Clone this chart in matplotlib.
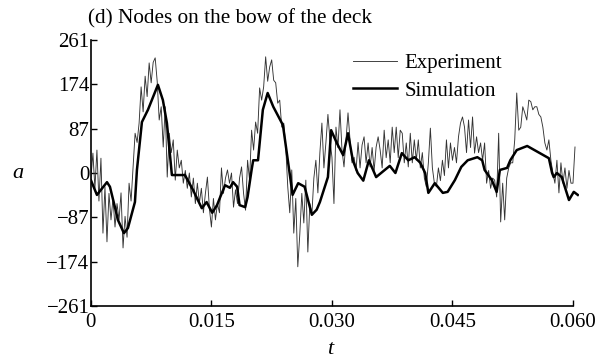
"""Bow-of-deck node acceleration: experiment against simulation."""

import matplotlib
matplotlib.use('Agg')
import matplotlib.pyplot as plt
import numpy as np

# measured signal, sampled every 0.25 ms from t = 0
DT_EXP = 0.00025
exp_a = [
    -10, 39, -30, 45, -55, 29, -118, -27, -135, -40,
    -92, -50, -106, -60, -92, -39, -147, -85, -126, -20,
    -55, 12, 78, 60, 98, 169, 120, 190, 150, 216,
    177, 217, 226, 180, 104, 130, 51, 130, -8, 78,
    40, 65, -14, 45, 10, 25, -20, 5, -30, 0,
    -47, -10, -60, -20, -59, -30, -78, -40, -8, -70,
    -106, -50, -92, -60, -78, 10, -40, -10, 6, -20,
    0, -67, -33, -60, -10, 12, -40, -73, 25, -14,
    84, 45, 100, 78, 167, 143, 169, 228, 180, 208,
    222, 182, 177, 137, 143, 90, 98, 51, -27, -78,
    6, -118, -50, -184, -120, -40, -98, -14, -155, -60,
    -82, -10, 25, -39, 40, 98, 10, 60, 115, 65,
    31, -60, 90, 50, 124, 45, 12, 65, 118, 65,
    20, 31, 5, 60, 10, 55, 71, 20, 59, 12,
    50, 5, 51, 71, 45, 10, 84, 30, 65, 20,
    90, 40, 90, 30, 84, 78, 20, 59, 12, 78,
    20, 65, 25, 65, 10, 40, -10, -27, 20, 88,
    10, -20, -27, 10, -15, 25, -5, 65, 10, 59,
    25, 50, 20, 71, 98, 110, 90, 40, 104, 50,
    110, 39, 71, 40, 59, 25, 59, -20, 5, -30,
    -10, -14, -47, 78, -96, -20, -92, -10, 10, 20,
    20, 65, 157, 84, 90, 130, 118, 104, 143, 140,
    124, 130, 130, 115, 110, 90, 59, 45, 65, 25,
    0, -20, 25, -39, 20, -20, 10, -30, 5, -20,
    -20, 51,
]
exp_t = np.arange(len(exp_a)) * DT_EXP

# simulated response (time in ms)
sim_t_ms = [
    0.0, 0.75, 2.0, 2.37, 2.99, 3.36, 4.11, 4.61, 5.48, 5.73,
    6.35, 7.1, 8.34, 8.96, 9.46, 10.08, 11.7, 12.7, 13.8, 14.4,
    15.1, 15.7, 16.1, 16.7, 17.3, 17.7, 18.2, 18.5, 19.2, 19.5,
    20.0, 20.2, 20.8, 21.4, 22.0, 22.7, 23.9, 24.8, 25.1, 25.8,
    26.6, 27.5, 28.1, 28.5, 29.5, 29.9, 30.6, 31.4, 32.0, 32.6,
    33.2, 33.9, 34.6, 35.5, 36.5, 37.2, 37.9, 38.7, 39.5, 40.3,
    41.0, 41.6, 42.0, 42.8, 43.8, 44.4, 45.3, 46.1, 46.9, 48.1,
    48.7, 49.0, 49.9, 50.5, 50.9, 51.8, 52.2, 53.0, 54.3, 57.0,
    57.4, 57.6, 58.0, 58.6, 59.5, 60.1, 60.6,
]
sim_a = [
    -14, -43, -18, -27, -67, -92, -118, -108, -57, 6,
    100, 124, 173, 143, 98, -4, -4, -33, -69, -57,
    -78, -63, -47, -24, -29, -18, -27, -63, -67, -47,
    6, 25, 25, 124, 157, 130, 94, -8, -43, -20,
    -27, -82, -72, -57, -8, 84, 59, 35, 78, 25,
    0, -15, 25, -8, 5, 14, 0, 39, 25, 31,
    20, 0, -39, -20, -39, -37, -14, 12, 25, 31,
    25, 6, -14, -37, 6, 10, 25, 45, 53, 29,
    0, -8, 0, -8, -53, -37, -43,
]
sim_t = np.array(sim_t_ms) / 1000.0

yticks = [-261, -174, -87, 0, 87, 174, 261]
xticks = [0, 0.015, 0.030, 0.045, 0.060]
xtick_labels = ['0', '0.015', '0.030', '0.045', '0.060']

plt.rcParams['font.family'] = ['Liberation Serif', 'DejaVu Serif']

fig = plt.figure(figsize=(6.06, 3.59), dpi=100)
ax = fig.add_axes([0.150, 0.1476, 0.8048, 0.741])

ax.plot(exp_t, exp_a, color='#333333', lw=0.65, label='Experiment')
ax.plot(sim_t, sim_a, color='black', lw=1.8, label='Simulation')

ax.set_xlim(0, 0.0607)
ax.set_ylim(-261, 261)
ax.spines['bottom'].set_bounds(0, 0.060)
for side in ('top', 'right'):
    ax.spines[side].set_visible(False)
for side in ('left', 'bottom'):
    ax.spines[side].set_linewidth(1.2)

ax.set_yticks(yticks)
ax.set_yticklabels([str(v).replace('-', '\u2212') for v in yticks])
ax.set_xticks(xticks)
ax.set_xticklabels(xtick_labels)
ax.tick_params(direction='in', length=4, width=1.0, labelsize=15)
ax.tick_params(axis='y', pad=1)
ax.tick_params(axis='x', pad=5)

fig.text(0.02, 0.518, 'a', fontsize=16, style='italic', ha='left', va='center')
fig.text(0.545, 0.0, 't', fontsize=16, style='italic', ha='center', va='bottom')
fig.text(88 / 606, 1 - 23 / 359, '(d) Nodes on the bow of the deck', fontsize=15.3,
         ha='left', va='baseline')

ax.legend(loc='upper left', bbox_to_anchor=(343 / 606, 1 - 43 / 359),
          bbox_transform=fig.transFigure, frameon=False, fontsize=15,
          handlelength=2.1, handletextpad=0.35, labelspacing=0.38, borderpad=0)

fig.savefig('out.png', dpi=100)
